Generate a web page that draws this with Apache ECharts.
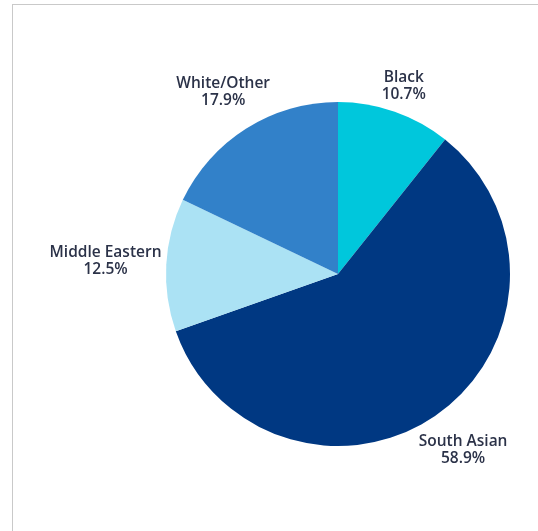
<!DOCTYPE html>
<html>
<head>
<meta charset="utf-8">
<script src="https://cdn.jsdelivr.net/npm/echarts@6/dist/echarts.min.js"></script>
<style>
html,body{margin:0;padding:0;background:#fff;}
#chart{position:absolute;left:0;top:0;width:538px;height:531px;}
#frame{position:absolute;left:12px;top:4px;right:0;bottom:0;border-top:1px solid #c9c9c9;border-left:1px solid #c9c9c9;pointer-events:none;}
</style>
</head>
<body>
<div id="chart"></div>
<div id="frame"></div>
<script>
const categories = ['Black', 'South Asian', 'Middle Eastern', 'White/Other'];
const values = [10.7, 58.9, 12.5, 17.9];
const colors = ['#00c7dc', '#003882', '#abe2f4', '#3281c9'];

const CX = 338, CY = 274, R = 172, GAP = 4;
const total = values.reduce((a, b) => a + b, 0);
const cum = [];
values.reduce((acc, v, i) => { cum[i] = acc; return acc + v; }, 0);

const chart = echarts.init(document.getElementById('chart'));
chart.setOption({
  animation: false,
  series: [{
    type: 'pie',
    center: [CX, CY],
    radius: R,
    startAngle: 90,
    clockwise: true,
    data: categories.map((c, i) => ({ name: c, value: values[i], itemStyle: { color: colors[i] } })),
    label: {
      show: true,
      position: 'outside',
      overflow: 'none',
      edgeDistance: 0,
      formatter: p => p.name + '\n' + p.value.toFixed(1) + '%',
      fontFamily: 'Open Sans',
      fontWeight: 600,
      fontSize: 15.5,
      lineHeight: 17,
      color: '#2b3248',
      align: 'center'
    },
    labelLine: { show: false },
    labelLayout: function (params) {
      const i = params.dataIndex;
      const f = (cum[i] + values[i] / 2) / total;
      const th = f * 2 * Math.PI;
      const dx = Math.sin(th), dy = -Math.cos(th);
      const w = params.labelRect.width, h = params.labelRect.height;
      const proj = w / 2 * Math.abs(dx) + h / 2 * Math.abs(dy);
      const d = R + GAP + proj;
      return { x: CX + d * dx, y: CY + d * dy, align: 'center', verticalAlign: 'middle' };
    }
  }]
});
</script>
</body>
</html>
